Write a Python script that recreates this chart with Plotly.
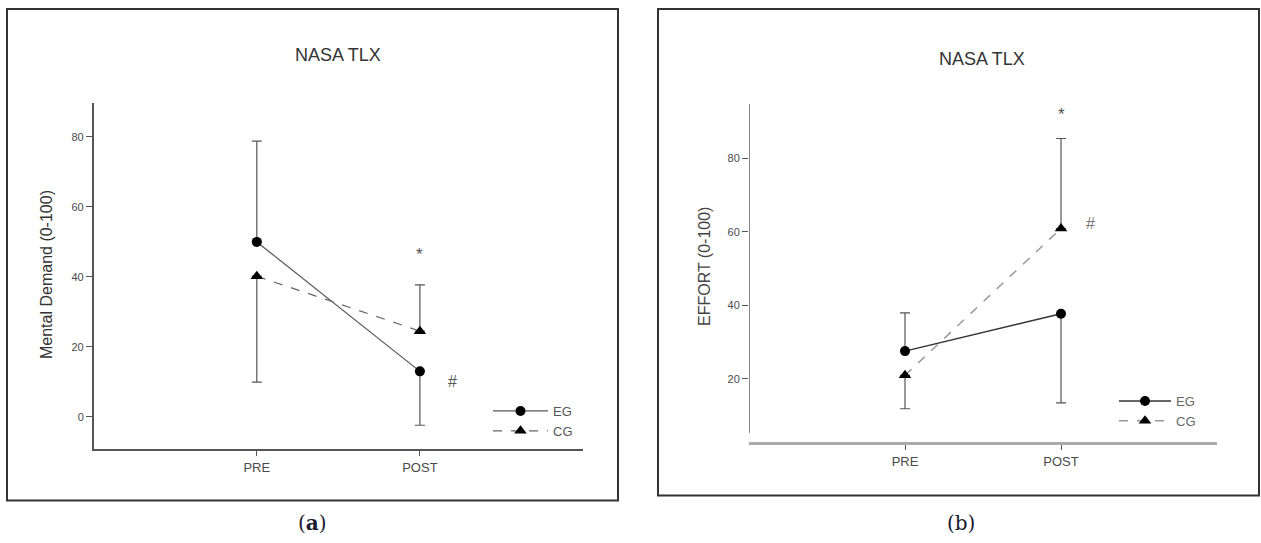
import plotly.graph_objects as go

# ---- data ----
phases = ["PRE", "POST"]
phase_pos = [1, 2]

md_eg = [50.0, 13.0]
md_eg_up = [28.8, 0.0]
md_eg_down = [0.0, 15.4]
md_cg = [40.2, 24.5]
md_cg_up = [0.0, 13.2]
md_cg_down = [30.3, 0.0]

ef_eg = [27.5, 37.7]
ef_eg_up = [10.4, 0.0]
ef_eg_down = [0.0, 24.3]
ef_cg = [20.9, 60.9]
ef_cg_up = [0.0, 24.5]
ef_cg_down = [9.1, 0.0]

md_ticks = [0, 20, 40, 60, 80]
ef_ticks = [20, 40, 60, 80]

W, H = 1261, 543
FONT = "Liberation Sans, Arial, sans-serif"

fig = go.Figure()

def add_group(xa, ya, y, up, down, name, symbol, msize, dash, color, legend, lw):
    fig.add_trace(go.Scatter(
        x=phase_pos, y=y, xaxis=xa, yaxis=ya, name=name, legend=legend,
        mode="lines+markers",
        line=dict(color=color, width=lw, dash=dash),
        marker=dict(symbol=symbol, size=msize, color="black"),
        error_y=dict(type="data", symmetric=False, array=up, arrayminus=down,
                     color="#555555", thickness=1.2, width=5),
    ))

add_group("x", "y", md_eg, md_eg_up, md_eg_down, "EG", "circle", 10, "solid", "#555555", "legend", 1.2)
add_group("x", "y", md_cg, md_cg_up, md_cg_down, "CG", "triangle-up", 11, "dash", "#666666", "legend", 1.2)
add_group("x2", "y2", ef_eg, ef_eg_up, ef_eg_down, "EG", "circle", 10, "solid", "#333333", "legend2", 1.5)
add_group("x2", "y2", ef_cg, ef_cg_up, ef_cg_down, "CG", "triangle-up", 11, "dash", "#999999", "legend2", 1.5)

xcommon = dict(range=[0, 3], tickvals=phase_pos, ticktext=phases, ticks="outside",
               ticklen=5, tickcolor="#555555", showgrid=False, zeroline=False,
               tickfont=dict(family=FONT, size=13, color="#4a4a4a"))
ycommon = dict(ticks="outside", ticklen=6, tickcolor="#555555", showgrid=False,
               zeroline=False, tickfont=dict(family=FONT, size=11, color="#4a4a4a"))

fig.update_layout(
    width=W, height=H,
    margin=dict(l=0, r=0, t=0, b=0),
    paper_bgcolor="white", plot_bgcolor="white",
    xaxis=dict(domain=[93.7 / W, 583 / W], anchor="y", showline=True,
               linecolor="#555555", linewidth=1.5, **xcommon),
    yaxis=dict(domain=[1 - 449.4 / H, 1 - 103 / H], anchor="x", range=[-9.3, 89.7],
               tickvals=md_ticks, showline=True, linecolor="#555555", linewidth=1.5,
               **ycommon),
    xaxis2=dict(domain=[749 / W, 1217 / W], anchor="y2", showline=True,
                linecolor="#aaaaaa", linewidth=3, **xcommon),
    yaxis2=dict(domain=[1 - 442 / H, 1 - 104 / H], anchor="x2", range=[2.75, 94.8],
                tickvals=ef_ticks, showline=False, **ycommon),
    legend=dict(x=488 / W, y=1 - 396 / H, xanchor="left", yanchor="top",
                bgcolor="rgba(0,0,0,0)", font=dict(family=FONT, size=13, color="#555555"),
                tracegroupgap=0, itemwidth=55),
    legend2=dict(x=1114 / W, y=1 - 386 / H, xanchor="left", yanchor="top",
                 bgcolor="rgba(0,0,0,0)", font=dict(family=FONT, size=13, color="#666666"),
                 tracegroupgap=0, itemwidth=52),
    showlegend=True,
)

# y-axis titles
fig.add_annotation(text="Mental Demand (0-100)", xref="paper", yref="paper",
                   x=46 / W, y=1 - 275 / H, xanchor="center", yanchor="middle",
                   textangle=-90, showarrow=False,
                   font=dict(family=FONT, size=16, color="#333333"))
fig.add_annotation(text="EFFORT (0-100)", xref="paper", yref="paper",
                   x=704 / W, y=1 - 267 / H, xanchor="center", yanchor="middle",
                   textangle=-90, showarrow=False,
                   font=dict(family=FONT, size=16, color="#444444"))

# right y-axis line (stops short of x axis)
fig.add_shape(type="line", xref="x2", yref="y2", x0=0, x1=0, y0=5.2, y1=94.8,
              line=dict(color="#888888", width=2))

# panel frames
fig.add_shape(type="rect", xref="paper", yref="paper", x0=7 / W, x1=618 / W,
              y0=1 - 500.5 / H, y1=1 - 9 / H, line=dict(color="#333333", width=2))
fig.add_shape(type="rect", xref="paper", yref="paper", x0=658 / W, x1=1259 / W,
              y0=1 - 495.5 / H, y1=1 - 9 / H, line=dict(color="#333333", width=2))

# titles
fig.add_annotation(text="NASA TLX", xref="paper", yref="paper", x=338 / W, y=1 - 43 / H,
                   xanchor="center", showarrow=False,
                   font=dict(family=FONT, size=18, color="#333333"))
fig.add_annotation(text="NASA TLX", xref="paper", yref="paper", x=982 / W, y=1 - 47 / H,
                   xanchor="center", showarrow=False,
                   font=dict(family=FONT, size=18, color="#333333"))

# significance marks
fig.add_annotation(text="*", xref="x", yref="y", x=2, y=46.3, showarrow=False,
                   font=dict(family=FONT, size=17, color="#555555"))
fig.add_annotation(text="#", xref="x", yref="y", x=2.2, y=10.2, showarrow=False,
                   font=dict(family=FONT, size=16, color="#555555"))
fig.add_annotation(text="*", xref="x2", yref="y2", x=2, y=92, showarrow=False,
                   font=dict(family=FONT, size=17, color="#555555"))
fig.add_annotation(text="#", xref="x2", yref="y2", x=2.19, y=62.3, showarrow=False,
                   font=dict(family=FONT, size=16, color="#777777"))

# panel labels
fig.add_annotation(text="(<b>a</b>)", xref="paper", yref="paper", x=312 / W, y=1 - 523 / H,
                   xanchor="center", yanchor="middle", showarrow=False,
                   font=dict(family="DejaVu Serif, serif", size=20, color="#1a1a2e"))
fig.add_annotation(text="(b)", xref="paper", yref="paper", x=961 / W, y=1 - 523 / H,
                   xanchor="center", yanchor="middle", showarrow=False,
                   font=dict(family="DejaVu Serif, serif", size=20, color="#1a1a2e"))

fig.write_html("out.html")
